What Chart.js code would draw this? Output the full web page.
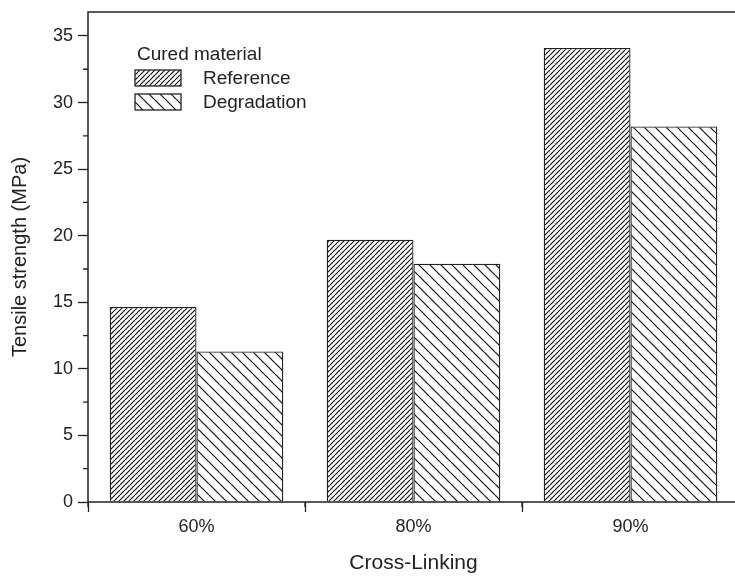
<!DOCTYPE html>
<html>
<head>
<meta charset="utf-8">
<script src="https://cdn.jsdelivr.net/npm/chart.js@4.4.1/dist/chart.umd.min.js"></script>
<style>
  html, body { margin: 0; padding: 0; background: #fff; overflow: hidden; }
  #wrap { width: 745px; height: 576px; }
</style>
</head>
<body>
<div id="wrap"><canvas id="grafico" width="745" height="576"></canvas></div>
<script>
const categorias = ["60%", "80%", "90%"];
const referencia = [14.65, 19.7, 34.1];
const degradacion = [11.3, 17.9, 28.2];
const nombresSeries = ["Reference", "Degradation"];
const tituloLeyenda = "Cured material";
const ticksY = [0, 5, 10, 15, 20, 25, 30, 35];

const tinta = "#222";
const fuente = "'Liberation Sans', Arial, sans-serif";

// patron de rayado diagonal
function crearRayado(paso, sentido) {
    const c = document.createElement("canvas");
    c.width = paso; c.height = paso;
    const ctx = c.getContext("2d");
    ctx.fillStyle = "#fff";
    ctx.fillRect(0, 0, paso, paso);
    ctx.strokeStyle = "#111";
    ctx.lineWidth = 1.2;
    ctx.beginPath();
    for (let k = -1; k <= 1; k++) {
        if (sentido === "/") {
            ctx.moveTo(k * paso, paso);
            ctx.lineTo(k * paso + paso, 0);
        } else {
            ctx.moveTo(k * paso, 0);
            ctx.lineTo(k * paso + paso, paso);
        }
    }
    ctx.stroke();
    return ctx.createPattern(c, "repeat");
}

const patronRef = crearRayado(5, "/");
const patronDeg = crearRayado(11, "\\");

const marcoPlugin = {
    id: "marco",
    afterDraw(chart) {
        const { ctx, chartArea: a, scales } = chart;
        ctx.save();
        ctx.strokeStyle = tinta;
        ctx.lineWidth = 1.5;
        ctx.strokeRect(a.left, a.top, a.right - a.left, a.bottom - a.top);

        // ticks menores
        ctx.lineWidth = 1.3;
        ctx.beginPath();
        ticksY.forEach(v => {
            const y = scales.y.getPixelForValue(v + 2.5);
            if (y > a.top) {
                ctx.moveTo(a.left - 5, y);
                ctx.lineTo(a.left, y);
            }
        });
        for (let i = -1; i < categorias.length; i++) {
            const x = scales.x.getPixelForValue(i + 0.5);
            ctx.moveTo(x, a.bottom);
            ctx.lineTo(x, a.bottom + 5);
        }
        ctx.stroke();

        // leyenda
        const lx = a.left + 47, ly = a.top + 43;
        ctx.fillStyle = tinta;
        ctx.font = "19px " + fuente;
        ctx.textBaseline = "middle";
        ctx.textAlign = "left";
        ctx.fillText(tituloLeyenda, lx + 2, ly);
        chart.data.datasets.forEach((ds, i) => {
            const by = ly + 15 + i * 24;
            ctx.fillStyle = ds.backgroundColor;
            ctx.fillRect(lx, by, 46, 16);
            ctx.strokeStyle = tinta;
            ctx.lineWidth = 1.3;
            ctx.strokeRect(lx, by, 46, 16);
            ctx.fillStyle = tinta;
            ctx.fillText(nombresSeries[i], lx + 68, by + 9);
        });
        ctx.restore();
    }
};

new Chart(document.getElementById("grafico"), {
    type: "bar",
    data: {
        labels: categorias,
        datasets: [
            { label: nombresSeries[0], data: referencia, backgroundColor: patronRef, borderColor: tinta, borderWidth: 1.3 },
            { label: nombresSeries[1], data: degradacion, backgroundColor: patronDeg, borderColor: tinta, borderWidth: 1.3 }
        ]
    },
    options: {
        responsive: false,
        animation: false,
        layout: { padding: { top: 12, right: 6, left: 0, bottom: 0 } },
        datasets: { bar: { barPercentage: 1, categoryPercentage: 0.8 } },
        plugins: { legend: { display: false }, tooltip: { enabled: false } },
        scales: {
            x: {
                grid: { display: true, drawOnChartArea: false, tickLength: 10, color: tinta, tickWidth: 1.3 },
                border: { display: false },
                ticks: { color: tinta, font: { family: fuente, size: 18 }, padding: 4, maxRotation: 0 },
                title: { display: true, text: "Cross-Linking", color: tinta, font: { family: fuente, size: 21 }, padding: { top: 0, bottom: 0 } },
                afterFit(s) { s.height = 74; }
            },
            y: {
                min: 0,
                max: 36.8,
                afterBuildTicks(s) { s.ticks = ticksY.map(v => ({ value: v })); },
                grid: { display: true, drawOnChartArea: false, tickLength: 10, color: tinta, tickWidth: 1.3 },
                border: { display: false },
                ticks: { color: tinta, font: { family: fuente, size: 18 }, padding: 5 },
                title: { display: true, text: "Tensile strength (MPa)", color: tinta, font: { family: fuente, size: 20 }, padding: { top: 8, bottom: 0 } },
                afterFit(s) { s.width = 88; s.paddingTop = 0; s.paddingBottom = 0; }
            }
        }
    },
    plugins: [marcoPlugin]
});
</script>
</body>
</html>
